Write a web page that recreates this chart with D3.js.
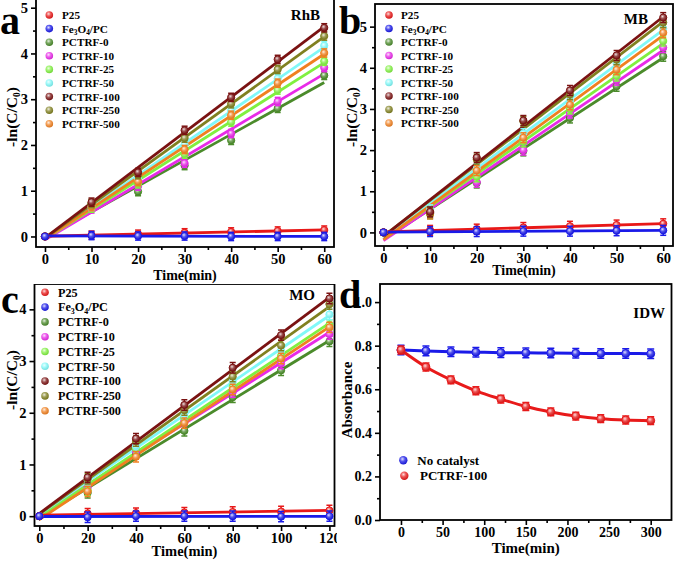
<!DOCTYPE html>
<html><head><meta charset="utf-8">
<script src="https://cdn.jsdelivr.net/npm/d3@7"></script>
<style>
body{margin:0;background:#fff}
text{font-family:"Liberation Serif","Times New Roman",serif;font-weight:bold;fill:#000}
</style>
</head><body>
<svg id="c" width="680" height="561" xmlns="http://www.w3.org/2000/svg"></svg>
<script>
// ---------- DATA ----------
const seriesNames = ["P25","Fe3O4/PC","PCTRF-0","PCTRF-10","PCTRF-25","PCTRF-50","PCTRF-100","PCTRF-250","PCTRF-500"];
const seriesColors = ["#e81818","#1a1ae8","#4b8b2b","#e82ae8","#80f040","#80f8f8","#7a1212","#808020","#f08020"];

const timeAB = [0,10,20,30,40,50,60];
const timeC  = [0,20,40,60,80,100,120];
const timeD  = [0,30,60,90,120,150,180,210,240,270,300];

const rhbValues = [
  [0,0.03,0.05,0.08,0.10,0.12,0.14],
  [0,0.02,0.01,0.01,0.00,0.00,0.00],
  [0,0.72,0.98,1.55,2.10,2.80,3.52],
  [0,0.60,1.10,1.60,2.25,2.95,3.69],
  [0,0.62,1.15,1.80,2.50,3.20,3.83],
  [0,0.65,1.25,2.00,2.75,3.45,4.17],
  [0,0.75,1.40,2.32,3.04,3.87,4.56],
  [0,0.72,1.35,2.15,2.90,3.65,4.38],
  [0,0.65,1.20,1.90,2.65,3.35,4.01]
];
const mbValues = [
  [0,0.05,0.08,0.12,0.15,0.18,0.21],
  [0,0.02,0.02,0.03,0.03,0.04,0.05],
  [0,0.45,1.20,1.98,2.78,3.55,4.28],
  [0,0.48,1.22,2.00,2.90,3.70,4.49],
  [0,0.50,1.35,2.20,3.00,3.80,4.65],
  [0,0.55,1.55,2.40,3.20,4.10,4.95],
  [0,0.50,1.82,2.72,3.45,4.30,5.22],
  [0,0.48,1.78,2.70,3.35,4.20,5.10],
  [0,0.45,1.50,2.30,3.10,3.95,4.85]
];
const moValues = [
  [0,0.05,0.06,0.07,0.08,0.09,0.11],
  [0,-0.02,0.00,0.00,0.00,-0.01,0.00],
  [0,0.45,1.20,1.65,2.30,2.82,3.38],
  [0,0.55,1.25,1.85,2.40,2.95,3.52],
  [0,0.50,1.30,1.90,2.50,3.10,3.70],
  [0,0.70,1.35,1.95,2.60,3.20,3.90],
  [0,0.75,1.50,2.15,2.87,3.50,4.21],
  [0,0.72,1.45,2.05,2.70,3.30,4.10],
  [0,0.48,1.15,1.80,2.45,3.05,3.65]
];
const idwNames = ["No catalyst","PCTRF-100"];
const idwColors = ["#1a1ae8","#e81a1a"];
const idwNoCatalyst = [0.780,0.776,0.772,0.770,0.768,0.767,0.766,0.765,0.764,0.764,0.763];
const idwPCTRF100   = [0.780,0.702,0.643,0.593,0.555,0.521,0.496,0.477,0.465,0.459,0.456];

const ticksAB = [0,10,20,30,40,50,60];
const ticksC  = [0,20,40,60,80,100,120];
const ticksD  = [0,50,100,150,200,250,300];
const yTicksA = [0,1,2,3,4,5];
const yTicksB = [0,1,2,3,4,5];
const yTicksC = [0,1,2,3,4];
const yTicksD = [0,0.2,0.4,0.6,0.8,1.0];

// ---------- DRAW ----------
const svg = d3.select("#c");
const defs = svg.append("defs");
function lighten(c,k){return d3.interpolateRgb(c,"#ffffff")(k);}
const gradId = {};
[...seriesColors, ...idwColors].forEach((c,i)=>{
  if(gradId[c]) return;
  const id="g"+i;
  const g=defs.append("radialGradient").attr("id",id).attr("cx","40%").attr("cy","35%").attr("r","65%");
  g.append("stop").attr("offset","0%").attr("stop-color",lighten(c,0.85));
  g.append("stop").attr("offset","45%").attr("stop-color",lighten(c,0.25));
  g.append("stop").attr("offset","100%").attr("stop-color",d3.color(c).darker(0.3));
  gradId[c]=id;
});

function fit(xs,ys){
  const n=xs.length, mx=d3.mean(xs), my=d3.mean(ys);
  let sxy=0,sxx=0; for(let i=0;i<n;i++){sxy+=(xs[i]-mx)*(ys[i]-my);sxx+=(xs[i]-mx)**2;}
  const s=sxy/sxx; return {s, b:my-s*mx};
}

function panel(cfg){
  const g = svg.append("g");
  if(cfg.clip){
    const cid="clip"+cfg.letter;
    defs.append("clipPath").attr("id",cid).append("rect")
      .attr("x",cfg.clip[0]).attr("y",cfg.clip[1]).attr("width",cfg.clip[2]).attr("height",cfg.clip[3]);
    g.attr("clip-path",`url(#${cid})`);
  }
  const x = d3.scaleLinear().domain(cfg.xDom).range([cfg.l,cfg.r]);
  const y = d3.scaleLinear().domain(cfg.yDom).range([cfg.b,cfg.t]);
  const pid = "pa"+cfg.letter;
  defs.append("clipPath").attr("id",pid).append("rect")
    .attr("x",cfg.l).attr("y",cfg.t).attr("width",cfg.r-cfg.l).attr("height",cfg.b-cfg.t);

  const xa = g.append("g").attr("transform",`translate(0,${cfg.b})`)
    .call(d3.axisBottom(x).tickValues(cfg.xTicks).tickSize(5).tickPadding(2).tickFormat(d3.format("d")));
  const xm = g.append("g").attr("transform",`translate(0,${cfg.b})`)
    .call(d3.axisBottom(x).tickValues(cfg.xMinor).tickSize(3).tickFormat(""));
  const ya = g.append("g").attr("transform",`translate(${cfg.l},0)`)
    .call(d3.axisLeft(y).tickValues(cfg.yTicks).tickSize(5).tickPadding(3).tickFormat(cfg.yFmt));
  const ym = g.append("g").attr("transform",`translate(${cfg.l},0)`)
    .call(d3.axisLeft(y).tickValues(cfg.yMinor).tickSize(3).tickFormat(""));
  [xa,xm,ya,ym].forEach(a=>{a.select(".domain").remove(); a.selectAll("line").attr("stroke","#000").attr("stroke-width",1.6);});
  [xa,ya].forEach(a=>a.selectAll("text").attr("font-size",cfg.tickFs).attr("font-family",'"Liberation Serif",serif').attr("font-weight","bold").attr("fill","#000"));

  g.append("rect").attr("x",cfg.l).attr("y",cfg.t).attr("width",cfg.r-cfg.l).attr("height",cfg.b-cfg.t)
    .attr("fill","none").attr("stroke","#000").attr("stroke-width",1.8);

  const plot = g.append("g").attr("clip-path",`url(#${pid})`);
  return {g,plot,x,y};
}

function addTitles(P,cfg){
  P.g.append("text").attr("x",(cfg.l+cfg.r)/2).attr("y",cfg.xTitleY).attr("text-anchor","middle")
    .attr("font-size",cfg.titleFs).text("Time(min)");
  const yfs = cfg.yTitleFs || cfg.titleFs;
  const yt = P.g.append("text").attr("transform",`translate(${cfg.yTitleX},${cfg.yTitleY}) rotate(-90)`)
    .attr("text-anchor","middle").attr("font-size",yfs);
  if(cfg.yTitle==="ln"){
    yt.append("tspan").text("-ln(C/C");
    yt.append("tspan").attr("font-size",yfs*0.6).attr("dy",3).text("0");
    yt.append("tspan").attr("dy",-3).text(")");
  } else yt.text(cfg.yTitle);
  svg.append("text").attr("x",cfg.letterX).attr("y",cfg.letterY).attr("font-size",40).text(cfg.letter);
  P.g.append("text").attr("x",cfg.labelX).attr("y",cfg.labelY).attr("text-anchor","end").attr("font-size",15).text(cfg.label);
}

function nameText(sel,name,fs){
  if(name==="Fe3O4/PC"){
    sel.append("tspan").text("Fe");
    sel.append("tspan").attr("font-size",fs*0.65).attr("dy",2.5).text("3");
    sel.append("tspan").attr("dy",-2.5).text("O");
    sel.append("tspan").attr("font-size",fs*0.65).attr("dy",2.5).text("4");
    sel.append("tspan").attr("dy",-2.5).text("/PC");
  } else sel.text(name);
}

function kineticPanel(cfg, times, values){
  const P = panel(cfg);
  const {plot,x,y} = P;
  const order=[2,3,4,5,8,7,6,0,1];
  order.forEach(i=>{
    const f=fit(times,values[i]);
    const x1=cfg.xTicks[cfg.xTicks.length-1];
    plot.append("line").attr("x1",x(0)).attr("y1",y(f.b)).attr("x2",x(x1)).attr("y2",y(f.b+f.s*x1))
      .attr("stroke",seriesColors[i]).attr("stroke-width",2.8);
  });
  order.forEach(i=>{
    const c=seriesColors[i];
    const pts=times.map((t,j)=>({t,v:values[i][j]}));
    const eg=plot.append("g").attr("stroke",c).attr("stroke-width",1.5);
    pts.forEach(p=>{
      if(p.t===0) return;
      eg.append("line").attr("x1",x(p.t)).attr("x2",x(p.t)).attr("y1",y(p.v-cfg.err)).attr("y2",y(p.v+cfg.err));
      [p.v-cfg.err,p.v+cfg.err].forEach(v=>eg.append("line").attr("x1",x(p.t)-3).attr("x2",x(p.t)+3).attr("y1",y(v)).attr("y2",y(v)));
    });
    plot.append("g").selectAll("circle").data(pts).join("circle")
      .attr("cx",d=>x(d.t)).attr("cy",d=>y(d.v)).attr("r",3.6)
      .attr("fill",`url(#${gradId[c]})`).attr("stroke",c).attr("stroke-width",1);
  });
  const lg=P.g.append("g");
  seriesNames.forEach((n,i)=>{
    const yy=cfg.legY+i*cfg.legDy;
    lg.append("circle").attr("cx",cfg.legX).attr("cy",yy).attr("r",3.8).attr("fill",`url(#${gradId[seriesColors[i]]})`);
    const t=lg.append("text").attr("x",cfg.legTX).attr("y",yy+cfg.legFs*0.36).attr("font-size",cfg.legFs);
    nameText(t,n,cfg.legFs);
  });
  addTitles(P,cfg);
}

const minor=(a,b,s)=>d3.range(a,b+1e-9,s);

kineticPanel({letter:"a",l:36,r:334,t:-1,b:247,xDom:[-1.93,62.1],yDom:[-0.23,5.19],
  xTicks:ticksAB,xMinor:minor(5,55,10),yTicks:yTicksA,yMinor:minor(0.5,4.5,1),yFmt:d3.format("d"),
  tickFs:14.5,titleFs:14,yTitleFs:15.5,yTitle:"ln",xTitleY:280,yTitleX:17,yTitleY:117,letterX:0,letterY:34,label:"RhB",labelX:320,labelY:20,
  err:0.09,legX:49.3,legTX:62,legY:15,legDy:13.6,legFs:11.2}, timeAB, rhbValues);

kineticPanel({letter:"b",l:375,r:673,t:4,b:246,xDom:[-1.82,62.1],yDom:[-0.33,5.55],
  xTicks:ticksAB,xMinor:minor(5,55,10),yTicks:yTicksB,yMinor:minor(0.5,4.5,1),yFmt:d3.format("d"),
  tickFs:14.5,titleFs:14,yTitleFs:15.5,yTitle:"ln",xTitleY:275,yTitleX:357,yTitleY:117,letterX:339,letterY:34,label:"MB",labelX:648,labelY:24,
  err:0.12,legX:389,legTX:401,legY:15,legDy:13.5,legFs:11.2}, timeAB, mbValues);

kineticPanel({letter:"c",l:34.5,r:334.5,t:284,b:526,xDom:[-1.98,122.1],yDom:[-0.19,4.49],
  xTicks:ticksC,xMinor:minor(10,110,20),yTicks:yTicksC,yMinor:minor(0.5,3.5,1),yFmt:d3.format("d"),
  tickFs:14.5,titleFs:14.5,yTitleFs:15.5,yTitle:"ln",xTitleY:556,yTitleX:17,yTitleY:380,letterX:1,letterY:313,label:"MO",labelX:315,labelY:300,
  err:0.1,legX:45,legTX:58,legY:292.3,legDy:14.8,legFs:12.2,clip:[0,284,337,277]}, timeC, moValues);

(function(){
  const cfg={letter:"d",l:380,r:671.5,t:284,b:520,xDom:[-25.2,325],yDom:[0,1.083],
    xTicks:ticksD,xMinor:minor(25,275,50),yTicks:yTicksD,yMinor:minor(0.1,0.9,0.2),yFmt:d3.format(".1f"),
    tickFs:14,titleFs:15,yTitleFs:15,yTitle:"Absorbance",xTitleY:553,yTitleX:352,yTitleY:400,letterX:339,letterY:308,label:"IDW",labelX:665,labelY:318};
  const P=panel(cfg); const {plot,x,y}=P;
  const sets=[idwNoCatalyst,idwPCTRF100];
  const line=d3.line().x((d,i)=>x(timeD[i])).y(d=>y(d)).curve(d3.curveMonotoneX);
  sets.forEach((vals,k)=>{
    plot.append("path").attr("d",line(vals)).attr("fill","none").attr("stroke",idwColors[k]).attr("stroke-width",3);
  });
  sets.forEach((vals,k)=>{
    const c=idwColors[k];
    const eg=plot.append("g").attr("stroke",c).attr("stroke-width",1.5);
    vals.forEach((v,i)=>{
      const e=(k===0?0.022:0.018);
      eg.append("line").attr("x1",x(timeD[i])).attr("x2",x(timeD[i])).attr("y1",y(v-e)).attr("y2",y(v+e));
      [v-e,v+e].forEach(w=>eg.append("line").attr("x1",x(timeD[i])-3.5).attr("x2",x(timeD[i])+3.5).attr("y1",y(w)).attr("y2",y(w)));
    });
    plot.append("g").selectAll("circle").data(vals).join("circle")
      .attr("cx",(d,i)=>x(timeD[i])).attr("cy",d=>y(d)).attr("r",4)
      .attr("fill",`url(#${gradId[c]})`).attr("stroke",c).attr("stroke-width",1);
  });
  const leg=[{x:403.3,tx:417.3,y:460.3},{x:404.3,tx:420,y:475.7}];
  idwNames.forEach((n,i)=>{
    P.g.append("circle").attr("cx",leg[i].x).attr("cy",leg[i].y).attr("r",4.2).attr("fill",`url(#${gradId[idwColors[i]]})`);
    P.g.append("text").attr("x",leg[i].tx).attr("y",leg[i].y+4.6).attr("font-size",13).text(n);
  });
  addTitles(P,cfg);
})();
</script>
</body></html>
